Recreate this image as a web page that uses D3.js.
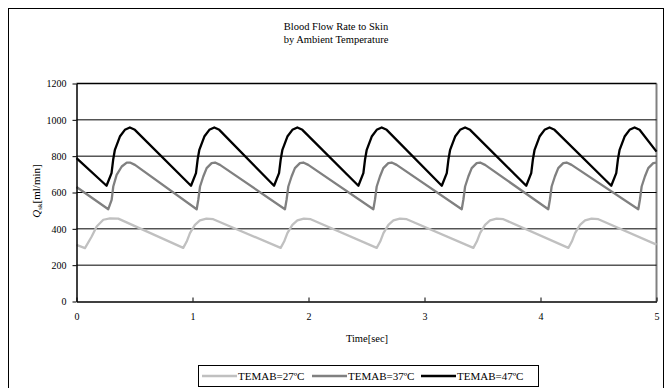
<!DOCTYPE html>
<html>
<head>
<meta charset="utf-8">
<script src="https://cdn.jsdelivr.net/npm/d3@7"></script>
<style>
	body { margin: 0; background: #fff; }
	svg text { font-family: "Liberation Serif", "Times New Roman", serif; fill: #000; }
</style>
</head>
<body>
<div id="chart"></div>
<script>
// Blood flow rate to skin
///

const titleLines = ['Blood Flow Rate to Skin', 'by Ambient Temperature'];
const xTicks = [0, 1, 2, 3, 4, 5];
const yTicks = [0, 200, 400, 600, 800, 1000, 1200];
const seriesNames = ['TEMAB=27ºC', 'TEMAB=37ºC', 'TEMAB=47ºC'];
const seriesColors = ['#c0c0c0', '#808080', '#000000'];

// [time sec, flow ml/min]
const temab27 = [
	[0, 312], [0.073, 294], [0.131, 358], [0.174, 413], [0.231, 450], [0.289, 458], [0.36, 456],
	[0.92, 295], [0.95, 330], [0.978, 376], [1.021, 422], [1.064, 446], [1.12, 456], [1.179, 453],
	[1.76, 295], [1.79, 330], [1.818, 376], [1.861, 422], [1.904, 446], [1.96, 456], [2.019, 453],
	[2.588, 295], [2.618, 330], [2.646, 376], [2.689, 422], [2.732, 446], [2.788, 456], [2.847, 453],
	[3.421, 295], [3.451, 330], [3.479, 376], [3.522, 422], [3.565, 446], [3.621, 456], [3.68, 453],
	[4.24, 295], [4.27, 330], [4.298, 376], [4.341, 422], [4.384, 446], [4.44, 456], [4.499, 453],
	[5, 313]
];
const temab37 = [
	[0, 630],
	[0.274, 508], [0.303, 560], [0.317, 633], [0.346, 697], [0.39, 743], [0.433, 765], [0.461, 765], [0.504, 752],
	[1.036, 508], [1.05, 560], [1.065, 633], [1.093, 688], [1.122, 734], [1.165, 762], [1.194, 765], [1.237, 752],
	[1.797, 508], [1.811, 560], [1.826, 633], [1.854, 688], [1.883, 734], [1.926, 762], [1.955, 765], [1.998, 752],
	[2.559, 508], [2.573, 560], [2.588, 633], [2.616, 688], [2.645, 734], [2.688, 762], [2.717, 765], [2.76, 752],
	[3.321, 508], [3.335, 560], [3.35, 633], [3.378, 688], [3.407, 734], [3.45, 762], [3.479, 765], [3.522, 752],
	[4.067, 508], [4.081, 560], [4.096, 633], [4.124, 688], [4.153, 734], [4.196, 762], [4.225, 765], [4.268, 752],
	[4.843, 508], [4.857, 560], [4.872, 633], [4.9, 688], [4.929, 734], [4.972, 762], [5, 765]
];
const temab47 = [
	[0, 789],
	[0.259, 637], [0.302, 707], [0.316, 780], [0.331, 835], [0.374, 908], [0.417, 945], [0.46, 958], [0.503, 945],
	[0.987, 637], [1.03, 707], [1.044, 780], [1.059, 835], [1.102, 908], [1.145, 945], [1.188, 958], [1.231, 945],
	[1.703, 637], [1.746, 707], [1.76, 780], [1.775, 835], [1.818, 908], [1.861, 945], [1.904, 958], [1.947, 945],
	[2.43, 637], [2.473, 707], [2.487, 780], [2.502, 835], [2.545, 908], [2.588, 945], [2.631, 958], [2.674, 945],
	[3.149, 637], [3.192, 707], [3.206, 780], [3.221, 835], [3.264, 908], [3.307, 945], [3.35, 958], [3.393, 945],
	[3.877, 637], [3.92, 707], [3.934, 780], [3.949, 835], [3.992, 908], [4.035, 945], [4.078, 958], [4.121, 945],
	[4.61, 637], [4.653, 707], [4.667, 780], [4.682, 835], [4.725, 908], [4.768, 945], [4.811, 958], [4.854, 945],
	[5, 825]
];
const seriesData = [temab27, temab37, temab47];

const w = 666, h = 388;
const plot = { left: 76.5, right: 656.5, top: 83.5, bottom: 301.5 };

let svg = d3.select('#chart').append('svg')
	.attr('width', w)
	.attr('height', h);

// chart area border (bottom edge falls outside the picture)
svg.append('rect')
	.attr('x', 8.5).attr('y', 8.5)
	.attr('width', 655).attr('height', 392)
	.attr('fill', '#fff').attr('stroke', '#000').attr('stroke-width', 1);

const x = d3.scaleLinear().domain([0, 5]).range([plot.left, plot.right]);
const y = d3.scaleLinear().domain([0, 1200]).range([plot.bottom, plot.top]);

// title
svg.append('g').selectAll('text')
	.data(titleLines)
	.enter()
	.append('text')
	.attr('x', 336)
	.attr('y', (d, i) => 30 + i * 13)
	.attr('text-anchor', 'middle')
	.style('font-size', '10.5px')
	.text(d => d);

// plot area frame, right side is grey
svg.append('line')
	.attr('x1', plot.right).attr('x2', plot.right)
	.attr('y1', plot.top).attr('y2', plot.bottom)
	.attr('stroke', '#808080').attr('stroke-width', 2);

// gridlines
svg.append('g').selectAll('line')
	.data(yTicks.filter(d => d > 0))
	.enter()
	.append('line')
	.attr('x1', plot.left).attr('x2', plot.right)
	.attr('y1', d => y(d)).attr('y2', d => y(d))
	.attr('stroke', '#000')
	.attr('stroke-width', d => d == 1200 ? 1.5 : 1);

// series
let line = d3.line().x(d => x(d[0])).y(d => y(d[1]));
svg.append('g').selectAll('path')
	.data(seriesData)
	.enter()
	.append('path')
	.attr('d', line)
	.attr('fill', 'none')
	.attr('stroke', (d, i) => seriesColors[i])
	.attr('stroke-width', 2.3)
	.attr('stroke-linejoin', 'round');

// axes
const fmt = d3.format('d');
let yAxis = svg.append('g')
	.attr('transform', 'translate(' + plot.left + ',0)')
	.call(d3.axisLeft(y).tickValues(yTicks).tickFormat(fmt).tickSizeInner(4).tickSizeOuter(0).tickPadding(6));
let xAxis = svg.append('g')
	.attr('transform', 'translate(0,' + plot.bottom + ')')
	.call(d3.axisBottom(x).tickValues(xTicks).tickFormat(fmt).tickSizeInner(-4).tickSizeOuter(0).tickPadding(11));

[yAxis, xAxis].forEach(function(a) {
	a.attr('font-family', null);
	a.select('.domain').attr('stroke', '#000').attr('stroke-width', 1.5);
	a.selectAll('.tick line').attr('stroke', '#000');
	a.selectAll('.tick text')
		.style('font-family', '"Liberation Serif", serif')
		.style('font-size', '10px');
});

// axis titles
svg.append('text')
	.attr('x', 367)
	.attr('y', 342)
	.attr('text-anchor', 'middle')
	.style('font-size', '10.5px')
	.text('Time[sec]');

let ylab = svg.append('text')
	.attr('transform', 'translate(40,191) rotate(-90)')
	.attr('text-anchor', 'middle')
	.style('font-size', '11px');
ylab.append('tspan').style('font-style', 'italic').text('Q');
ylab.append('tspan').attr('dy', 2).style('font-size', '7px').text('sk');
ylab.append('tspan').attr('dy', -2).text('[ml/min]');

// legend
let legend = svg.append('g');
legend.append('rect')
	.attr('x', 198.5).attr('y', 365.5)
	.attr('width', 340).attr('height', 21)
	.attr('fill', '#fff').attr('stroke', '#000');

const legendX = [202, 312, 421];
let items = legend.selectAll('g.item')
	.data(seriesNames)
	.enter()
	.append('g')
	.attr('class', 'item')
	.attr('transform', (d, i) => 'translate(' + legendX[i] + ',376)');
items.append('line')
	.attr('x1', 0).attr('x2', 35)
	.attr('stroke', (d, i) => seriesColors[i])
	.attr('stroke-width', 2.5);
items.append('text')
	.attr('x', 36)
	.attr('y', 4)
	.style('font-size', '11px')
	.text(d => d);
</script>
</body>
</html>
